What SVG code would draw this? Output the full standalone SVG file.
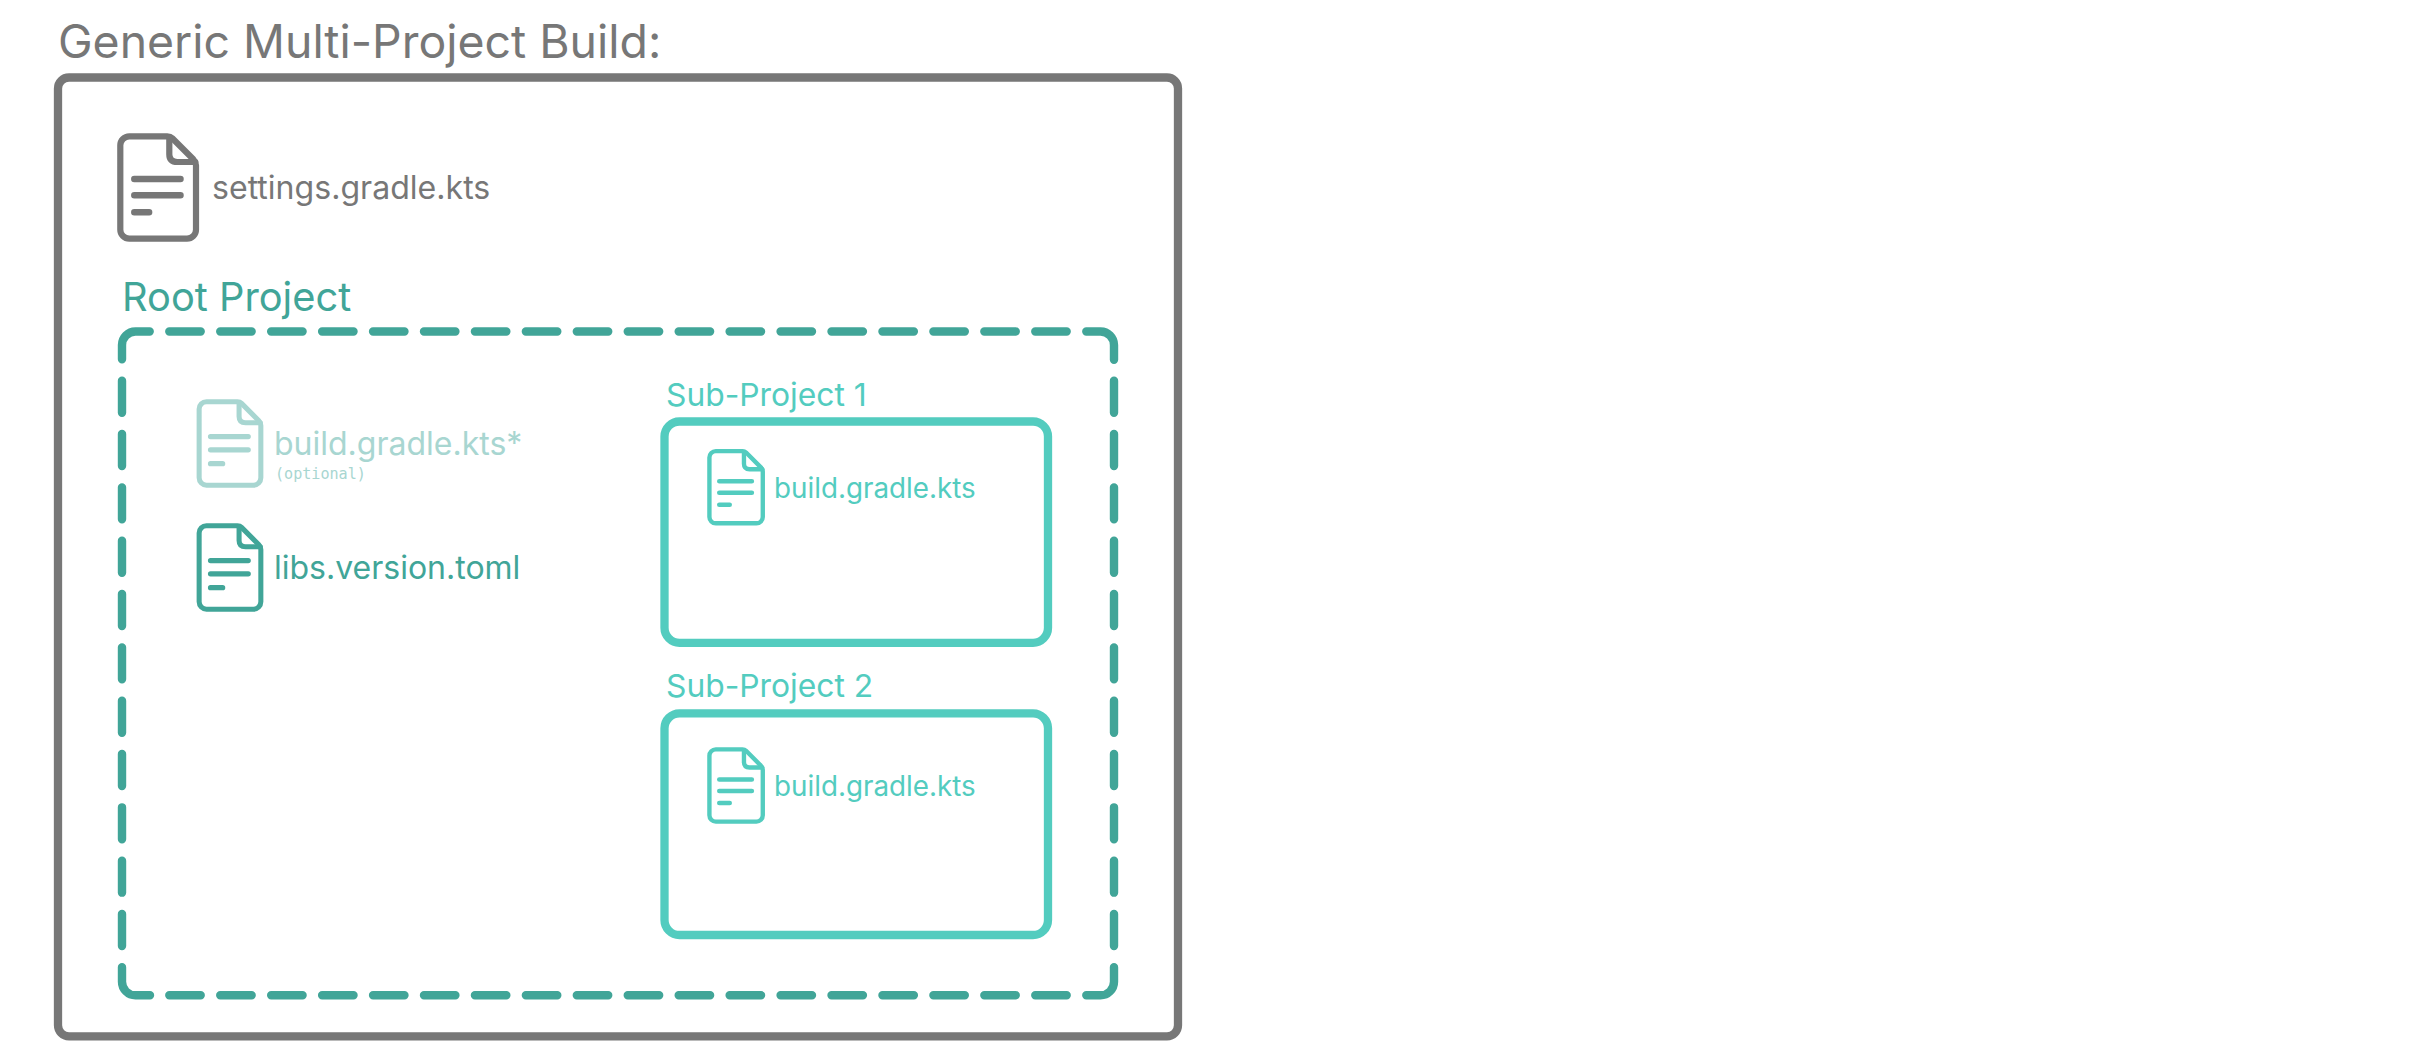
<svg xmlns="http://www.w3.org/2000/svg" width="2420" height="1064" viewBox="0 0 2420 1064">
<style>
text{font-family:"Inter","Liberation Sans",sans-serif}
.grey{fill:#777777}.dark{fill:#41A598}.sub{fill:#53CCBF}.faded{fill:#A8D6D1}
.box{fill:none;stroke-width:8.3}
.dash{fill:none;stroke:#41A598;stroke-width:8.4;stroke-linecap:round}
.ic{fill:none;stroke-width:6.2;stroke-linecap:round;stroke-linejoin:round}
.mono{font-family:"DejaVu Sans Mono",monospace}
</style>
<defs>
<g id="doc">
<path d="M12,3 H50 Q53,3 55,5 L76,26 Q78.7,29 78.7,32 V96.4 A9 9 0 0 1 69.7,105.4 H12 A9 9 0 0 1 3,96.4 V12 A9 9 0 0 1 12,3 Z"/>
<path d="M52,4 V21 Q52,28.7 60,28.7 H78"/>
<path stroke-width="6.5" d="M17,45.7 H63.2 M17,62 H63.2 M17,79 H31.8"/>
</g>
</defs>
<rect width="2420" height="1064" fill="#ffffff"/>
<g id="outer">
<text class="grey" x="58" y="57.5" font-size="46.4">Generic Multi-Project Build:</text>
<rect class="box" x="58" y="77.5" width="1120" height="958.8" rx="11" stroke="#777777"/>
</g>
<g id="settings">
<use href="#doc" class="ic" stroke="#777777" transform="translate(117.3 133.3)"/>
<text class="grey" x="212" y="199.3" font-size="32.1">settings.gradle.kts</text>
</g>
<g id="root-project">
<text class="dark" x="122" y="310.5" font-size="39.8">Root Project</text>
<path class="dash" d="M122,359.3 V345 A13.5 13.5 0 0 1 135.5,331.5 H149.7"/>
<path class="dash" d="M1086.3,331.5 H1100.5 A13.5 13.5 0 0 1 1114,345 V359.7"/>
<path class="dash" d="M1114,967.3 V981.8 A13.5 13.5 0 0 1 1100.5,995.3 H1086.3"/>
<path class="dash" d="M150,995.3 H135.5 A13.5 13.5 0 0 1 122,981.8 V967.3"/>
<path class="dash" stroke-dasharray="31.4 19.54" d="M169.3,331.5 H1067"/>
<path class="dash" stroke-dasharray="31.4 19.54" d="M169.3,995.3 H1067"/>
<path class="dash" stroke-dasharray="32 21.33" d="M122,380.7 V946"/>
<path class="dash" stroke-dasharray="32 21.33" d="M1114,380.7 V946"/>
</g>
<g id="build-optional">
<use href="#doc" class="ic" stroke="#A8D6D1" transform="translate(196.7 399.3) scale(0.815)"/>
<text class="faded" x="274" y="455" font-size="32">build.gradle.kts*</text>
<text class="faded mono" x="275" y="479" font-size="15.1">(optional)</text>
</g>
<g id="libs">
<use href="#doc" class="ic" stroke="#41A598" transform="translate(196.7 523.3) scale(0.815)"/>
<text class="dark" x="274" y="579.3" font-size="32">libs.version.toml</text>
</g>
<g id="sub-project-1">
<text class="sub" x="666" y="405.5" font-size="31.8">Sub-Project 1</text>
<rect class="box" x="664.5" y="421.5" width="383.5" height="221.3" rx="15" stroke="#53CCBF"/>
<use href="#doc" class="ic" stroke="#53CCBF" transform="translate(707.3 449) scale(0.705)"/>
<text class="sub" x="774" y="497.6" font-size="27.8">build.gradle.kts</text>
</g>
<g id="sub-project-2">
<text class="sub" x="666" y="697.3" font-size="31.8">Sub-Project 2</text>
<rect class="box" x="664.5" y="713.3" width="383.5" height="221.7" rx="15" stroke="#53CCBF"/>
<use href="#doc" class="ic" stroke="#53CCBF" transform="translate(707.3 747.3) scale(0.705)"/>
<text class="sub" x="774" y="796" font-size="27.8">build.gradle.kts</text>
</g>
</svg>
